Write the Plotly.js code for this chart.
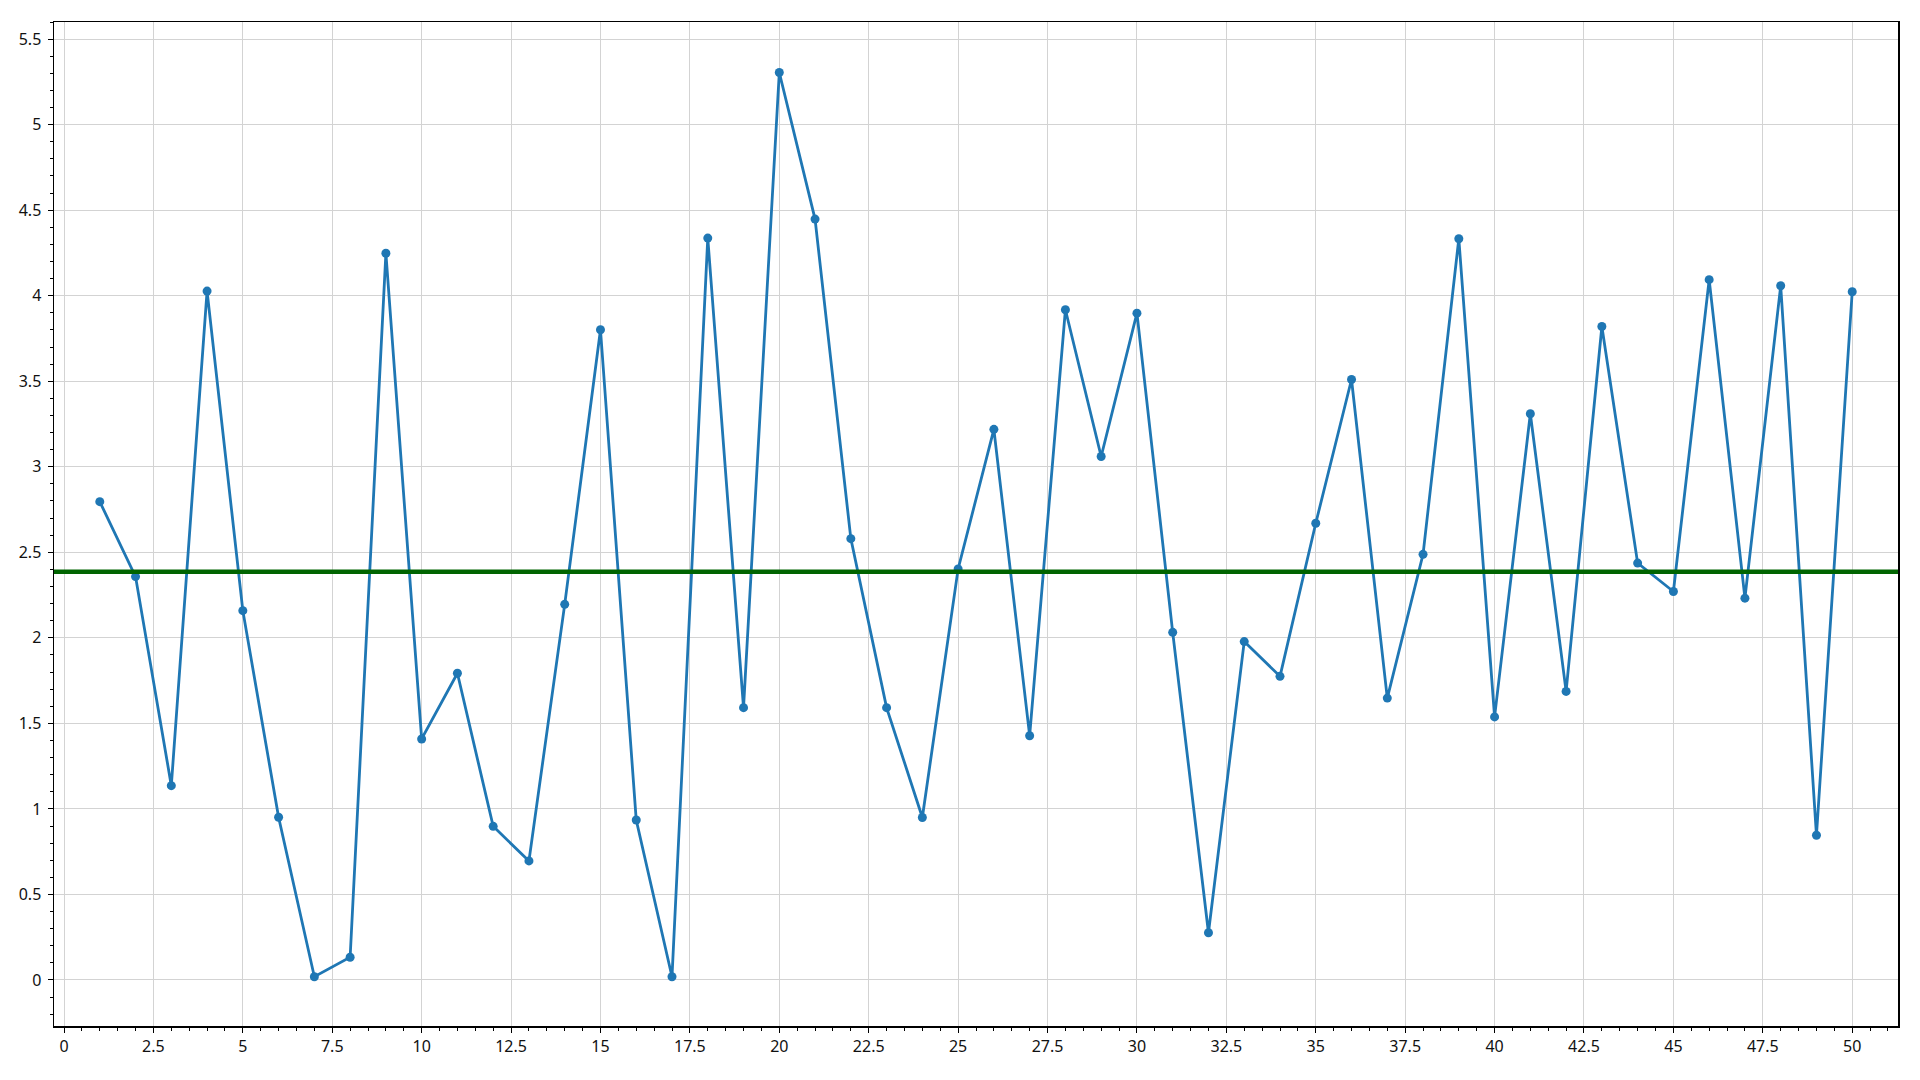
<!DOCTYPE html>
<html>
<head>
<meta charset="utf-8">
<script src="https://cdn.plot.ly/plotly-3.0.1.min.js"></script>
<style>
  html, body { margin: 0; padding: 0; background: #ffffff; }
  #chart { width: 1920px; height: 1080px; }
</style>
</head>
<body>
<div id="chart"></div>
<script>
// Data
const xValues = [1, 2, 3, 4, 5, 6, 7, 8, 9, 10,
                 11, 12, 13, 14, 15, 16, 17, 18, 19, 20,
                 21, 22, 23, 24, 25, 26, 27, 28, 29, 30,
                 31, 32, 33, 34, 35, 36, 37, 38, 39, 40,
                 41, 42, 43, 44, 45, 46, 47, 48, 49, 50];
const yValues = [2.796, 2.358, 1.136, 4.027, 2.159, 0.951, 0.019, 0.133, 4.248, 1.409,
                 1.793, 0.898, 0.696, 2.196, 3.801, 0.935, 0.019, 4.337, 1.592, 5.305,
                 4.448, 2.580, 1.592, 0.950, 2.403, 3.219, 1.428, 3.918, 3.060, 3.898,
                 2.032, 0.276, 1.978, 1.775, 2.670, 3.510, 1.648, 2.488, 4.333, 1.538,
                 3.310, 1.687, 3.820, 2.437, 2.271, 4.094, 2.232, 4.058, 0.846, 4.023];
const meanValue = yValues.reduce((a, b) => a + b, 0) / yValues.length;

const traces = [
  {
    x: xValues,
    y: yValues,
    type: 'scatter',
    mode: 'lines+markers',
    line: { color: '#1f77b4', width: 2.8 },
    marker: { color: '#1f77b4', size: 9 },
    hoverinfo: 'x+y',
    showlegend: false
  }
];

const fontFamily = '"Noto Sans", "Open Sans", "DejaVu Sans", sans-serif';

const layout = {
  width: 1920,
  height: 1080,
  margin: { l: 54, r: 22, t: 22, b: 54, pad: 0 },
  paper_bgcolor: '#ffffff',
  plot_bgcolor: '#ffffff',
  showlegend: false,
  font: { family: fontFamily, size: 16, color: '#111111' },
  xaxis: {
    range: [-0.28, 51.28],
    tick0: 0,
    dtick: 2.5,
    ticks: 'outside',
    ticklen: 5,
    tickwidth: 1,
    tickcolor: '#000000',
    ticklabelstandoff: 0,
    showline: true,
    linecolor: '#000000',
    linewidth: 1.5,
    mirror: true,
    showgrid: true,
    gridcolor: '#d3d3d3',
    gridwidth: 1,
    zeroline: false,
    tickfont: { family: fontFamily, size: 16, color: '#111111' },
    minor: { dtick: 0.5, tick0: 0, ticks: 'outside', ticklen: 3, tickcolor: '#000000', tickwidth: 1, showgrid: false }
  },
  yaxis: {
    range: [-0.269, 5.6],
    tick0: 0,
    dtick: 0.5,
    ticks: 'outside',
    ticklen: 5,
    tickwidth: 1,
    tickcolor: '#000000',
    ticklabelstandoff: 3,
    showline: true,
    linecolor: '#000000',
    linewidth: 1.5,
    mirror: true,
    showgrid: true,
    gridcolor: '#d3d3d3',
    gridwidth: 1,
    zeroline: false,
    tickfont: { family: fontFamily, size: 16, color: '#111111' },
    minor: { dtick: 0.1, tick0: 0, ticks: 'outside', ticklen: 3, tickcolor: '#000000', tickwidth: 1, showgrid: false }
  },
  shapes: [
    {
      type: 'line',
      xref: 'paper', x0: 0, x1: 1,
      yref: 'y', y0: meanValue, y1: meanValue,
      line: { color: '#006400', width: 4.5 },
      layer: 'above'
    }
  ]
};

Plotly.newPlot('chart', traces, layout, { displayModeBar: false, staticPlot: true });
</script>
</body>
</html>
